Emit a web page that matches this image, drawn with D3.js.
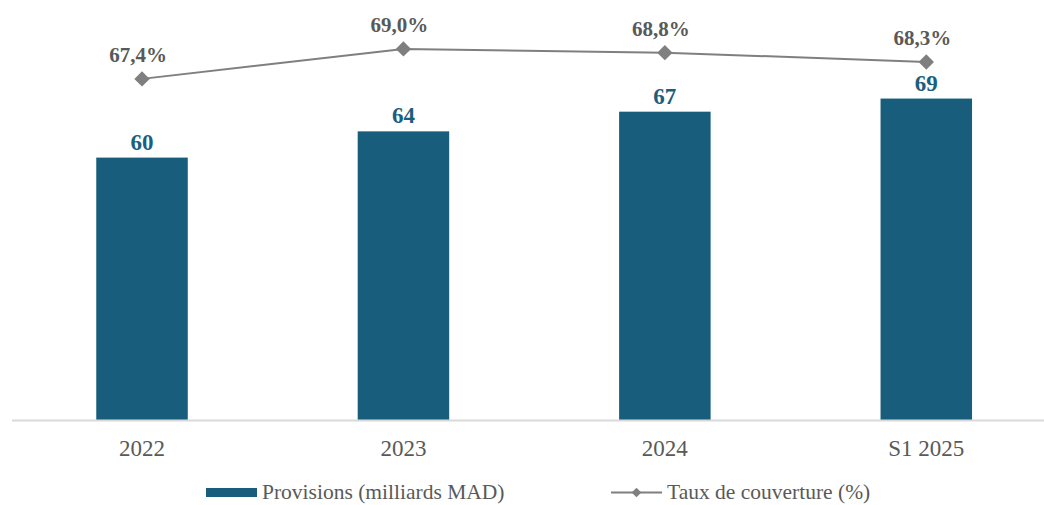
<!DOCTYPE html>
<html>
<head>
<meta charset="utf-8">
<script src="https://cdn.jsdelivr.net/npm/d3@7"></script>
<style>
  html, body { margin: 0; padding: 0; background: #ffffff; }
  svg { display: block; }
  text { font-family: "Times New Roman", "Liberation Serif", Times, serif; }
</style>
</head>
<body>
<script>
// Provisions (billions MAD) and coverage ratio (%) by period
const categories = ["2022", "2023", "2024", "S1 2025"];
const provisions = [60, 64, 67, 69];
const coverage = [67.4, 69.0, 68.8, 68.3];
const legendLabels = ["Provisions (milliards MAD)", "Taux de couverture (%)"];

const W = 1044, H = 505;
const barColor = "#185e7c";
const lineColor = "#7f7f7f";
const textGray = "#595959";

const svg = d3.select("body").append("svg")
  .attr("width", W).attr("height", H);

const plotTop = 26.4, plotBottom = 420;

const x = d3.scaleBand()
  .domain(categories)
  .range([11.3, 1057])
  .paddingInner(0.65)
  .paddingOuter(0.325);

const y = d3.scaleLinear().domain([20, 80]).range([plotBottom, plotTop]);
const y2 = d3.scaleLinear().domain([49.2, 70.2]).range([plotBottom, plotTop]);

const fmtPct = v => d3.format(".1f")(v).replace(".", ",") + "%";

// Bars
svg.append("g").selectAll("rect")
  .data(provisions)
  .join("rect")
  .attr("x", (d, i) => x(categories[i]))
  .attr("y", d => y(d))
  .attr("width", x.bandwidth())
  .attr("height", d => y(20) - y(d))
  .attr("fill", barColor);

// Bar value labels
svg.append("g").selectAll("text")
  .data(provisions)
  .join("text")
  .attr("x", (d, i) => x(categories[i]) + x.bandwidth() / 2)
  .attr("y", d => y(d) - 8)
  .attr("text-anchor", "middle")
  .attr("font-weight", "bold")
  .attr("font-size", 23)
  .attr("fill", "#1b5e7e")
  .text(d => d);

// Category axis
const xAxis = svg.append("g")
  .attr("transform", `translate(0,${plotBottom})`)
  .call(d3.axisBottom(x).tickSize(0).tickPadding(0));
xAxis.attr("font-family", null);
xAxis.select(".domain")
  .attr("d", `M12,0.5H${W}`)
  .attr("stroke", "#d9d9d9")
  .attr("stroke-width", 2);
xAxis.selectAll(".tick text")
  .attr("y", 36)
  .attr("dy", null)
  .attr("font-size", 23)
  .attr("fill", textGray);

// Coverage line
const cx = i => x(categories[i]) + x.bandwidth() / 2;
const line = d3.line()
  .x((d, i) => cx(i))
  .y(d => y2(d));

svg.append("path")
  .datum(coverage)
  .attr("d", line)
  .attr("fill", "none")
  .attr("stroke", lineColor)
  .attr("stroke-width", 2);

const diamond = d3.symbol().type(d3.symbolDiamond2).size(150);
svg.append("g").selectAll("path")
  .data(coverage)
  .join("path")
  .attr("transform", (d, i) => `translate(${cx(i)},${y2(d)})`)
  .attr("d", diamond)
  .attr("fill", lineColor);

// Coverage labels sit slightly left of their markers
svg.append("g").selectAll("text")
  .data(coverage)
  .join("text")
  .attr("x", (d, i) => cx(i) - 4)
  .attr("y", d => y2(d) - 17)
  .attr("text-anchor", "middle")
  .attr("font-weight", "bold")
  .attr("font-size", 21)
  .attr("fill", textGray)
  .text(d => fmtPct(d));

// Legend
const legend = svg.append("g");
legend.append("rect")
  .attr("x", 206).attr("y", 488)
  .attr("width", 51).attr("height", 9)
  .attr("fill", barColor);
legend.append("text")
  .attr("x", 262).attr("y", 499)
  .attr("font-size", 21.5)
  .attr("fill", textGray)
  .text(legendLabels[0]);

legend.append("line")
  .attr("x1", 611).attr("x2", 662)
  .attr("y1", 492.5).attr("y2", 492.5)
  .attr("stroke", lineColor)
  .attr("stroke-width", 2);
legend.append("path")
  .attr("transform", "translate(636.5,492.5)")
  .attr("d", d3.symbol().type(d3.symbolDiamond2).size(60))
  .attr("fill", lineColor);
legend.append("text")
  .attr("x", 667).attr("y", 499)
  .attr("font-size", 21.5)
  .attr("fill", textGray)
  .text(legendLabels[1]);
</script>
</body>
</html>
